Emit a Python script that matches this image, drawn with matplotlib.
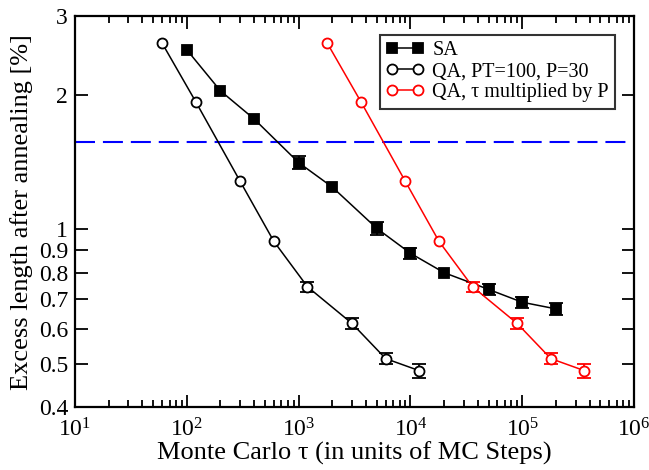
import numpy as np
import matplotlib
matplotlib.use('Agg')
import matplotlib.pyplot as plt
from matplotlib.ticker import FixedLocator, NullLocator, NullFormatter, FixedFormatter

plt.rcParams['font.family'] = ['Liberation Serif', 'DejaVu Serif']
plt.rcParams['mathtext.fontset'] = 'custom'
plt.rcParams['mathtext.rm'] = 'Liberation Serif'

# SA (simulated annealing)
sa_tau = [100, 200, 400, 1000, 2000, 5000, 10000, 20000, 50000, 100000, 200000]
sa_len = [2.52, 2.04, 1.765, 1.41, 1.243, 1.005, 0.884, 0.80, 0.734, 0.687, 0.664]
sa_err = [0, 0, 0, 0.048, 0, 0.036, 0.026, 0, 0.02, 0.02, 0.021]

# QA, PT=100, P=30
qa_tau = [60, 120, 300, 600, 1200, 3000, 6000, 12000]
qa_len = [2.61, 1.93, 1.28, 0.94, 0.744, 0.616, 0.514, 0.483]
qa_err = [0, 0, 0, 0, 0.019, 0.016, 0.015, 0.017]

# QA with tau multiplied by P
P = 30
qap_tau = [t * P for t in qa_tau]

threshold = 1.57

fig = plt.figure(figsize=(6.49, 4.70), dpi=100)
ax = fig.add_axes([0.1156, 0.1334, 0.8614, 0.8326])


def draw(x, y, err, color, marker, face, label):
    x, y, err = np.array(x), np.array(y), np.array(err)
    m = err > 0
    ax.errorbar(x[m], y[m], yerr=err[m], fmt='none', ecolor=color,
                elinewidth=1.3, capsize=5, capthick=1.3, zorder=2)
    ax.plot(x, y, color=color, lw=1.1, marker=marker, ms=7.2,
            mfc=face, mec=color, mew=1.3, label=label, zorder=3)


draw(sa_tau, sa_len, sa_err, 'black', 's', 'black', 'SA')
draw(qa_tau, qa_len, qa_err, 'black', 'o', 'white', 'QA, PT=100, P=30')
draw(qap_tau, qa_len, qa_err, 'red', 'o', 'white', 'QA, τ multiplied by P')

ax.axhline(threshold, color='blue', lw=1.5, dashes=(9.6, 3.8), zorder=1)

ax.set_xscale('log')
ax.set_yscale('log')
ax.set_xlim(10, 1e6)
ax.set_ylim(0.4, 3)

yt = [0.4, 0.5, 0.6, 0.7, 0.8, 0.9, 1, 2, 3]
ax.yaxis.set_major_locator(FixedLocator(yt))
ax.yaxis.set_major_formatter(FixedFormatter(['0.4', '0.5', '0.6', '0.7', '0.8', '0.9', '1', '2', '3']))
ax.yaxis.set_minor_locator(NullLocator())
ax.yaxis.set_minor_formatter(NullFormatter())

ax.tick_params(which='both', direction='in', top=True, right=True, labelsize=17, width=1.3)
ax.tick_params(which='major', length=9)
ax.tick_params(which='minor', length=5)
ax.tick_params(axis='x', which='major', pad=8)
ax.tick_params(axis='y', which='major', pad=5)
for s in ax.spines.values():
    s.set_linewidth(1.6)

ax.set_xlabel('Monte Carlo τ (in units of MC Steps)', fontsize=19, labelpad=0)
ax.set_ylabel('Excess length after annealing [%]', fontsize=19, labelpad=4)

leg = ax.legend(loc='upper right', numpoints=2, fontsize=14.5, frameon=True, fancybox=False,
                handlelength=1.9, handletextpad=0.4, borderpad=0.3, labelspacing=0.1,
                borderaxespad=0.95)
leg.get_frame().set_edgecolor('black')
leg.get_frame().set_linewidth(1.5)

fig.savefig('out.png', dpi=100)
